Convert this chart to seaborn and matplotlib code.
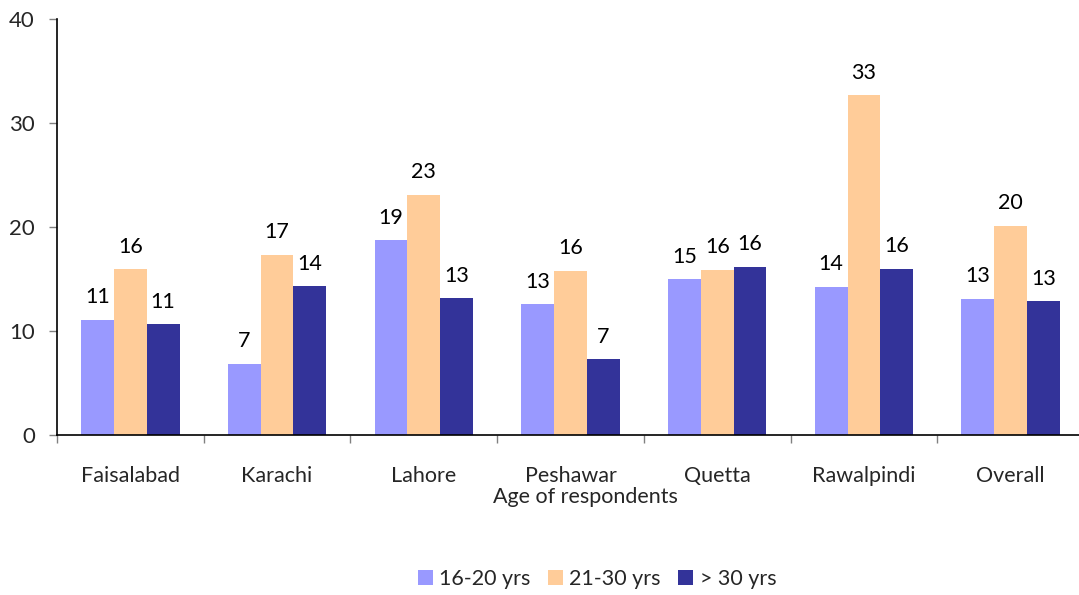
import matplotlib
matplotlib.use("Agg")
import matplotlib.pyplot as plt
import seaborn as sns
import pandas as pd
import numpy as np

# Share of respondents by age group in each city (%)
cities = ["Faisalabad", "Karachi", "Lahore", "Peshawar", "Quetta", "Rawalpindi", "Overall"]
age_groups = ["16-20 yrs", "21-30 yrs", "> 30 yrs"]
age_16_20 = [11.06, 6.86, 18.75, 12.55, 14.97, 14.26, 13.08]
age_21_30 = [15.96, 17.31, 23.08, 15.77, 15.87, 32.69, 20.10]
age_over_30 = [10.67, 14.30, 13.14, 7.27, 16.19, 15.99, 12.88]
y_ticks = [0, 10, 20, 30, 40]

colors = ["#9999FF", "#FFCC99", "#333399"]

df = pd.DataFrame({
    "city": cities * 3,
    "age": [age_groups[0]] * 7 + [age_groups[1]] * 7 + [age_groups[2]] * 7,
    "value": age_16_20 + age_21_30 + age_over_30,
})

sns.set_theme(style="white")
plt.rcParams["font.family"] = ["Lato", "DejaVu Sans"]

FS = 15.5

fig = plt.figure(figsize=(10.79, 5.95), dpi=100)
ax = fig.add_axes([57 / 1079, 160 / 595, 1027 / 1079, 416 / 595])

sns.barplot(data=df, x="city", y="value", hue="age", order=cities,
            hue_order=age_groups, palette=colors, saturation=1,
            width=0.67, linewidth=0, ax=ax, legend=True)

for cont in ax.containers:
    ax.bar_label(cont, fmt="%.0f", padding=9, fontsize=FS, color="black")

ax.set_xlim(-0.5, 6.5)
ax.set_ylim(0, 40)
ax.set_yticks(y_ticks)
ax.tick_params(axis="y", direction="out", length=6, width=1, color="#808080",
               labelsize=16, pad=10, left=True)
ax.set_xticks(range(len(cities)))
ax.set_xticklabels(cities)
ax.tick_params(axis="x", which="major", length=0, labelsize=FS, pad=22)
ax.set_xticks(np.arange(-0.5, 7, 1), minor=True)
ax.tick_params(axis="x", which="minor", direction="out", length=6, width=1,
               color="#808080", bottom=True)

for side in ["top", "right"]:
    ax.spines[side].set_visible(False)
for side in ["left", "bottom"]:
    ax.spines[side].set_color("black")
    ax.spines[side].set_linewidth(1.2)

ax.set_ylabel("")
ax.set_xlabel("Age of respondents", fontsize=FS)
ax.xaxis.set_label_coords((585 - 57) / 1027, (435 - 497) / 416)
ax.xaxis.label.set_va("center")

handles, labels = ax.get_legend_handles_labels()
ax.legend_.remove()
fig.legend(handles, labels, loc="center", bbox_to_anchor=(597 / 1079, 16 / 595),
           ncol=3, frameon=False, fontsize=FS, handlelength=0.7,
           handleheight=0.7, handletextpad=0.3, columnspacing=0.8)

fig.savefig("out.png", dpi=100)
